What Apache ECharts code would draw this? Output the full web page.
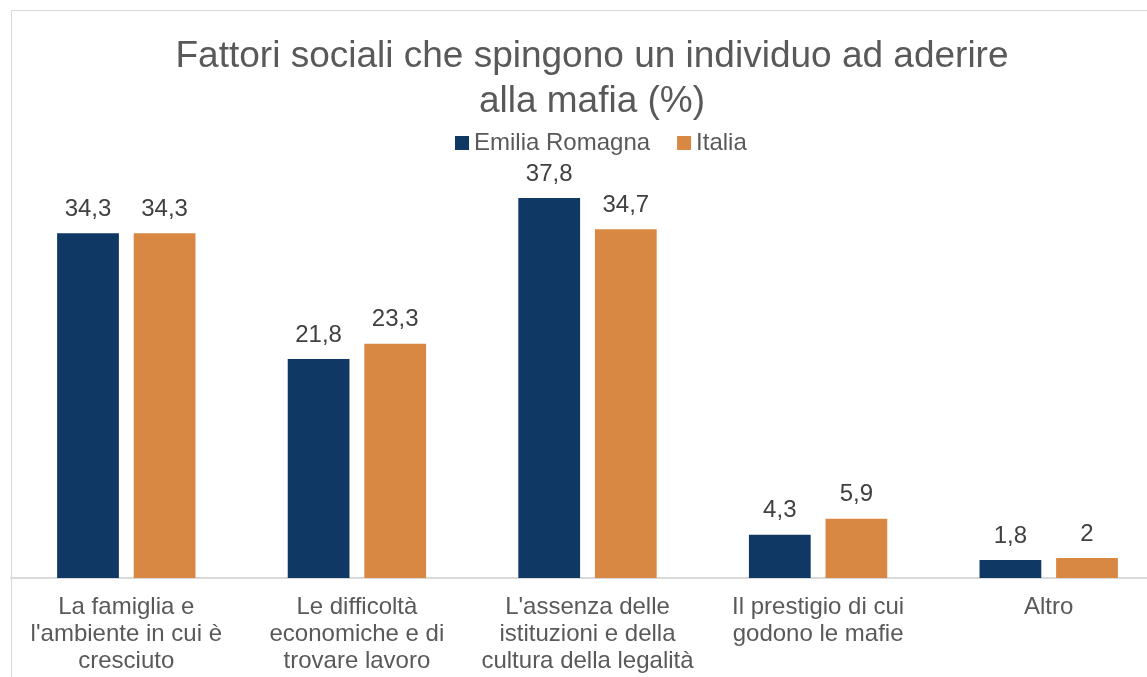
<!DOCTYPE html>
<html><head><meta charset="utf-8">
<script src="https://cdn.jsdelivr.net/npm/echarts@6/dist/echarts.min.js"></script>
<style>html,body{margin:0;padding:0;background:#fff}#c{width:1147px;height:677px}</style>
</head><body><div id="c"></div>
<script>
const categories = ["La famiglia e\nl'ambiente in cui è\ncresciuto", "Le difficoltà\neconomiche e di\ntrovare lavoro", "L'assenza delle\nistituzioni e della\ncultura della legalità", "Il prestigio di cui\ngodono le mafie", "Altro"];
const emiliaRomagna = [34.3, 21.8, 37.8, 4.3, 1.8];
const italia = [34.3, 23.3, 34.7, 5.9, 2];
const seriesNames = ["Emilia Romagna", "Italia"];
const titleText = "Fattori sociali che spingono un individuo ad aderire\nalla mafia (%)";

const FONT = "'Liberation Sans', Arial, sans-serif";
const chart = echarts.init(document.getElementById('c'));
const lbl = {
  show: true, position: 'top', distance: 12, color: '#404040', fontSize: 24, fontFamily: FONT,
  formatter: p => String(p.value).replace('.', ',')
};
chart.setOption({
  animation: false,
  graphic: [
    { type: 'line', shape: { x1: 11, y1: 10.5, x2: 1147, y2: 10.5 }, style: { stroke: '#D9D9D9', lineWidth: 1 } },
    { type: 'line', shape: { x1: 11.5, y1: 10, x2: 11.5, y2: 677 }, style: { stroke: '#D9D9D9', lineWidth: 1 } }
  ],
  title: {
    text: titleText, left: 587, top: 29, textAlign: 'center',
    textStyle: { fontSize: 37, fontWeight: 'normal', color: '#595959', fontFamily: FONT, lineHeight: 45 }
  },
  legend: {
    data: seriesNames, left: 450, top: 126, itemWidth: 14, itemHeight: 14, itemGap: 27,
    icon: 'rect',
    textStyle: { fontSize: 24, color: '#595959', fontFamily: FONT }
  },
  grid: { left: 11, width: 1153, top: 176, bottom: 99, containLabel: false, outerBoundsMode: 'none' },
  xAxis: {
    type: 'category', data: categories,
    axisLine: { lineStyle: { color: '#D9D9D9', width: 2 } },
    axisTick: { show: false },
    axisLabel: { color: '#595959', fontSize: 24, fontFamily: FONT, lineHeight: 27, margin: 16, interval: 0 }
  },
  yAxis: { type: 'value', min: 0, max: 40, show: false, splitLine: { show: false } },
  series: [
    { name: seriesNames[0], type: 'bar', data: emiliaRomagna, itemStyle: { color: '#0F3864' },
      barGap: '24%', barCategoryGap: '40%', label: lbl },
    { name: seriesNames[1], type: 'bar', data: italia, itemStyle: { color: '#D98843' }, label: lbl }
  ]
});
</script></body></html>
